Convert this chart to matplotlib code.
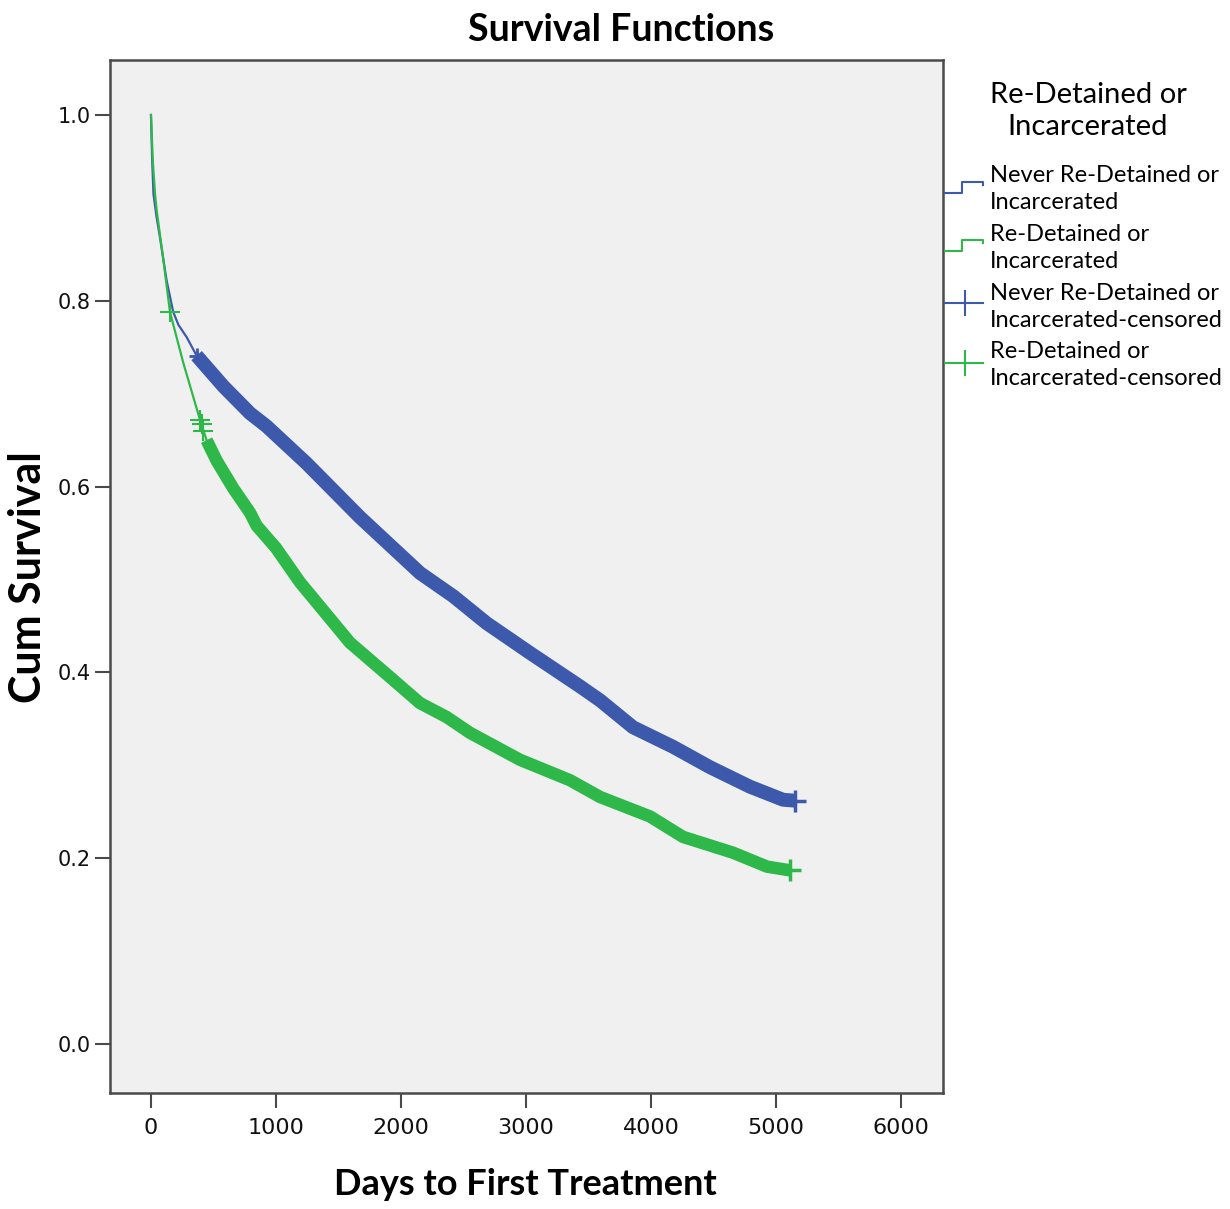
import matplotlib
matplotlib.use("Agg")
import matplotlib.pyplot as plt
from matplotlib.lines import Line2D

plt.rcParams['font.family'] = ['Lato', 'DejaVu Sans']

# Kaplan-Meier estimates (days, cumulative survival)
never_days = [0, 10, 20, 45, 70, 125, 178, 220, 285, 365, 579, 792, 925, 1245, 1672,
              2152, 2419, 2685, 3032, 3432, 3592, 3856, 4176, 4472, 4792, 5056, 5150]
never_surv = [1.0, 0.95, 0.915, 0.89, 0.870, 0.822, 0.788, 0.774, 0.761, 0.741, 0.708,
              0.679, 0.665, 0.625, 0.567, 0.507, 0.482, 0.453, 0.421, 0.385, 0.370,
              0.341, 0.320, 0.298, 0.277, 0.263, 0.262]
never_dense_from = 365

redet_days = [0, 15, 32, 45, 99, 152, 259, 392, 445, 525, 659, 792, 845, 1000, 1192,
              1592, 1912, 2152, 2365, 2552, 2952, 3352, 3592, 3725, 3992, 4256, 4656,
              4928, 5112]
redet_surv = [1.0, 0.95, 0.916, 0.898, 0.844, 0.788, 0.733, 0.672, 0.650, 0.628, 0.598,
              0.572, 0.558, 0.534, 0.497, 0.432, 0.395, 0.367, 0.352, 0.335, 0.306,
              0.284, 0.266, 0.259, 0.245, 0.223, 0.206, 0.191, 0.187]
redet_dense_from = 445
redet_cens_days = [152, 392, 405, 420]
redet_cens_surv = [0.788, 0.672, 0.667, 0.660]

x_ticks = [0, 1000, 2000, 3000, 4000, 5000, 6000]
y_ticks = [0.0, 0.2, 0.4, 0.6, 0.8, 1.0]

legend_title = "Re-Detained or\nIncarcerated"
legend_labels = ["Never Re-Detained or\nIncarcerated",
                 "Re-Detained or\nIncarcerated",
                 "Never Re-Detained or\nIncarcerated-censored",
                 "Re-Detained or\nIncarcerated-censored"]

BLUE = '#3d59ab'
GREEN = '#2fb84a'
EDGE = '#4a4a4a'


def split_dense(days, surv, start):
    d = [x for x in days if x >= start]
    s = [y for x, y in zip(days, surv) if x >= start]
    return d, s


fig = plt.figure(figsize=(12.3, 12.09), dpi=100)
ax = fig.add_axes([0.0894, 0.0959, 0.6773, 0.8545])
ax.set_facecolor('#f0f0f0')

# thin survival curves
ax.plot(never_days, never_surv, color=BLUE, lw=1.6, zorder=3)
ax.plot(redet_days, redet_surv, color=GREEN, lw=1.6, zorder=3)

# dense censoring marks form a thick band along each curve
d, s = split_dense(redet_days, redet_surv, redet_dense_from)
ax.plot(d, s, color=GREEN, lw=9, solid_capstyle='butt', solid_joinstyle='round', zorder=3)
ax.plot(d[-1:], s[-1:], color=GREEN, ls='none', marker='+', ms=16, mew=2.5, zorder=3)
d, s = split_dense(never_days, never_surv, never_dense_from)
ax.plot(d, s, color=BLUE, lw=10, solid_capstyle='butt', solid_joinstyle='round', zorder=4)
ax.plot(d[:1], s[:1], color=BLUE, ls='none', marker='+', ms=12, mew=2, zorder=4)
ax.plot(d[-1:], s[-1:], color=BLUE, ls='none', marker='+', ms=16, mew=2.5, zorder=4)

ax.plot(redet_cens_days, redet_cens_surv, color=GREEN, ls='none', marker='+',
        ms=14, mew=1.5, zorder=3)

ax.set_xlim(-328, 6336)
ax.set_ylim(-0.0527, 1.0592)
ax.set_xticks(x_ticks)
ax.set_yticks(y_ticks)
ax.set_xticklabels([str(t) for t in x_ticks], fontsize=16, family=['DejaVu Sans'])
ax.set_yticklabels(['%.1f' % t for t in y_ticks], fontsize=15, family=['DejaVu Sans'])
ax.tick_params(direction='out', length=11, width=1.5, color=EDGE, labelcolor='#111')
ax.tick_params(axis='x', pad=7)
ax.tick_params(axis='y', pad=3)
for sp in ax.spines.values():
    sp.set_color(EDGE)
    sp.set_linewidth(1.8)

fig.text(0.505, 0.975, "Survival Functions", ha='center', va='center',
         fontsize=27, fontweight='bold')
fig.text(0.4268, 0.0199, "Days to First Treatment", ha='center', va='center',
         fontsize=26, fontweight='bold')
fig.text(0.0228, 0.5227, "Cum Survival", ha='center', va='center',
         fontsize=31, fontweight='bold', rotation=90)

# legend drawn beside the axes
W, H = 1230.0, 1209.0


def fx(px):
    return px / W


def fy(py):
    return 1 - py / H


fig.text(fx(1088), fy(111), legend_title, ha='center', va='center',
         fontsize=21, linespacing=1.3)

step_y = [188, 246]
for col, yc in zip([BLUE, GREEN], step_y):
    xs = [945, 962, 962, 983, 983]
    ys = [yc + 5, yc + 5, yc - 6, yc - 6, yc - 3]
    fig.add_artist(Line2D([fx(v) for v in xs], [fy(v) for v in ys], color=col, lw=1.5))

for col, yc in zip([BLUE, GREEN], [303, 363]):
    fig.add_artist(Line2D([fx(945), fx(983)], [fy(yc), fy(yc)], color=col, lw=1.5))
    fig.add_artist(Line2D([fx(965), fx(965)], [fy(yc - 12), fy(yc + 12)], color=col, lw=1.5))

for lab, yc in zip(legend_labels, [189, 248, 307, 365]):
    fig.text(fx(990), fy(yc), lab, ha='left', va='center', fontsize=17,
             linespacing=1.3)

fig.savefig('out.png', dpi=100, facecolor='white')
